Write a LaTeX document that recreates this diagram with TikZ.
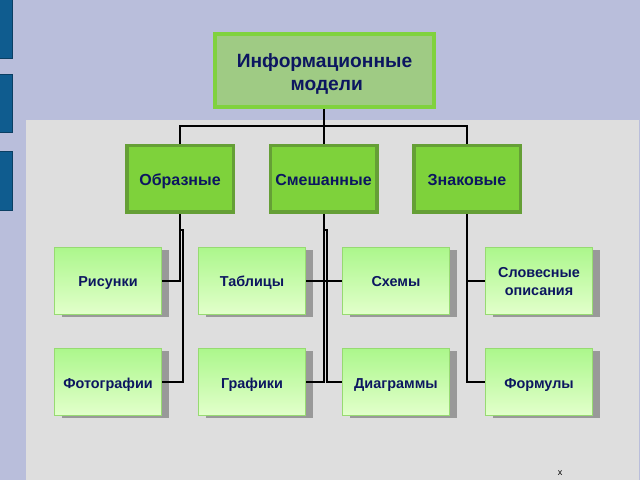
\documentclass[tikz,border=0pt]{standalone}
\usepackage{fontspec}
\setmainfont{Liberation Sans}
\usetikzlibrary{shadows}
\definecolor{pagebg}{HTML}{B9BEDB}
\definecolor{panel}{HTML}{DEDEDE}
\definecolor{barblue}{HTML}{0F5C8F}
\definecolor{bardark}{HTML}{0B3F63}
\definecolor{rootfill}{HTML}{9FCB84}
\definecolor{rootline}{HTML}{80D23E}
\definecolor{midfill}{HTML}{7ED23B}
\definecolor{midline}{HTML}{659F36}
\definecolor{leaftop}{HTML}{ACF78C}
\definecolor{leafbot}{HTML}{E2FFCB}
\definecolor{leafline}{HTML}{97DA72}
\definecolor{shadowgrey}{HTML}{999999}
\definecolor{inktext}{HTML}{0C1660}
\tikzset{
  x=1bp,y=-1bp,
  baseat/.style={text height=#1,text depth=0pt},
  sidebar/.style={fill=barblue,draw=bardark,line width=.8bp},
  rootbox/.style={draw=rootline,fill=rootfill,line width=4bp,minimum width=219bp,minimum height=73bp,
    align=center,text=inktext,font=\bfseries\fontsize{19.2bp}{23.3bp}\selectfont,inner sep=0pt,baseat=40.4bp},
  midbox/.style={draw=midline,fill=midfill,line width=3.5bp,minimum width=106.5bp,minimum height=66.5bp,
    align=center,text=inktext,font=\bfseries\fontsize{16bp}{18bp}\selectfont,inner sep=0pt,baseat=14bp},
  leafbox/.style={draw=leafline,line width=1.2bp,top color=leaftop,bottom color=leafbot,
    minimum width=107bp,minimum height=67bp,align=center,text=inktext,
    font=\bfseries\fontsize{14.4bp}{17.7bp}\selectfont,inner sep=0pt,baseat=11.4bp,
    general shadow={shadow xshift=7bp,shadow yshift=-2.5bp,fill=shadowgrey,draw=none}},
  wire/.style={draw=black,line width=2bp},
}
\begin{document}
\begin{tikzpicture}
\useasboundingbox (0,0) rectangle (640,480);
\fill[pagebg] (0,0) rectangle (640,480);
\fill[panel] (26,120) rectangle (639,479.5);
\draw[sidebar] (-2,-2) rectangle (12,58);
\draw[sidebar] (-2,74) rectangle (12,132);
\draw[sidebar] (-2,151) rectangle (12,210);

\node[rootbox] (root) at (324.5,70.5) {Информационные\\\hspace*{4.5bp}модели};
\node[midbox] (m1) at (180,179) {Образные};
\node[midbox] (m2) at (323.5,179) {Смешанные};
\node[midbox] (m3) at (467,179) {Знаковые};

\node[leafbox] (risunki) at (108,281) {Рисунки};
\node[leafbox] (tablicy) at (252,281) {Таблицы};
\node[leafbox] (shemy) at (396,281) {Схемы};
\node[leafbox,baseat=28bp] (slova) at (539,281) {Словесные\\описания};
\node[leafbox,baseat=13.6bp] (foto) at (108,382) {Фотографии};
\node[leafbox,baseat=12.4bp] (grafiki) at (252,382) {Графики};
\node[leafbox,baseat=12.4bp] (diagr) at (396,382) {Диаграммы};
\node[leafbox,baseat=13.6bp] (formuly) at (539,382) {Формулы};

\node[text=black,font=\fontsize{9bp}{9bp}\selectfont,inner sep=0pt] (mark) at (560,473) {x};

\coordinate (bus) at (324,126.5);
\coordinate (k1) at (183,230);
\coordinate (k2) at (327,230);

\draw[wire] (root.south -| bus) -- (m2.north -| bus);
\draw[wire] (m1.north) |- (bus) -| (m3.north);

\draw[wire] (m1.south) |- (risunki.east);
\draw[wire] (m1.south) |- (k1) |- (foto.east);
\draw[wire] (m2.south -| bus) |- (tablicy.east);
\draw[wire] (m2.south -| bus) |- (shemy.west);
\draw[wire] (m2.south -| bus) |- (grafiki.east);
\draw[wire] (m2.south -| bus) |- (k2) |- (diagr.west);
\draw[wire] (m3.south) |- (slova.west);
\draw[wire] (m3.south) |- (formuly.west);
\end{tikzpicture}
\end{document}
